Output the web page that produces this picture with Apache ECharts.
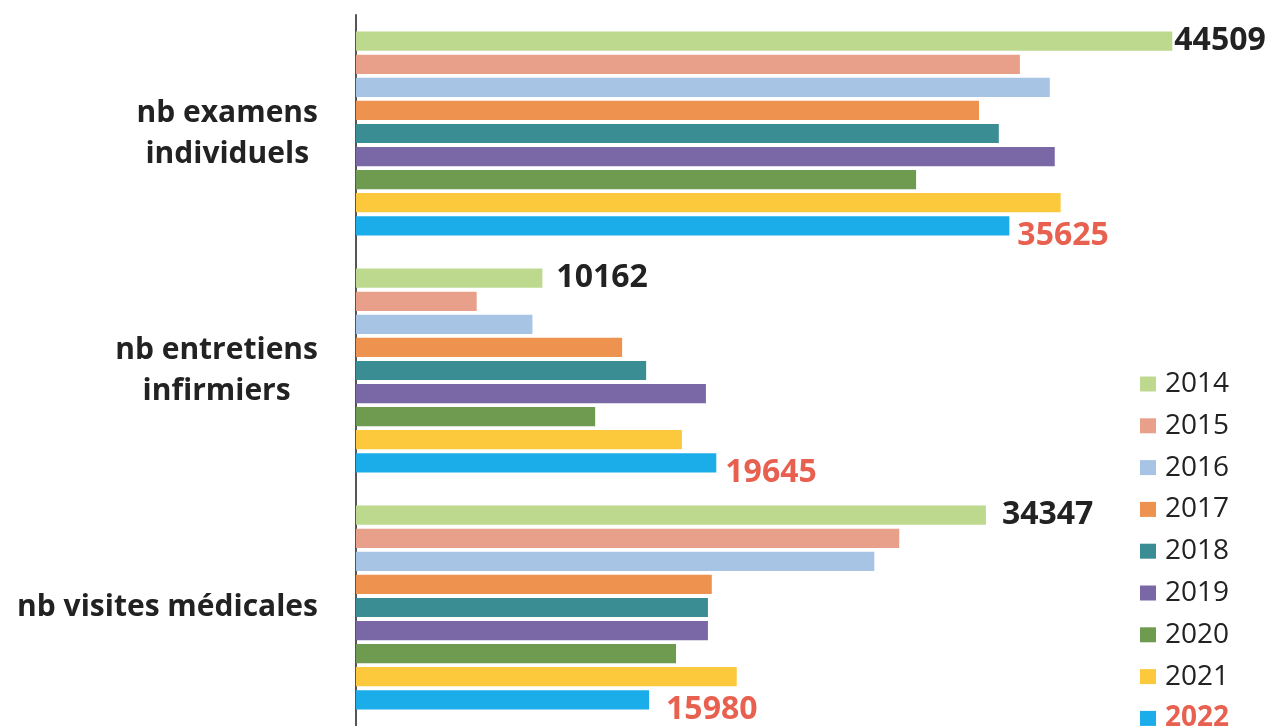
<!DOCTYPE html>
<html><head><meta charset="utf-8">
<script src="https://cdn.jsdelivr.net/npm/echarts@6/dist/echarts.min.js"></script>
<style>html,body{margin:0;padding:0;background:#fff}#c{width:1273px;height:726px}</style>
</head><body><div id="c"></div>
<script>
const categories = ['nb examens\nindividuels', 'nb entretiens\ninfirmiers', 'nb visites médicales'];
const years = ['2014','2015','2016','2017','2018','2019','2020','2021','2022'];
const v2014 = [44509, 10162, 34347];
const v2015 = [36200, 6580, 29620];
const v2016 = [37830, 9620, 28260];
const v2017 = [33970, 14510, 19400];
const v2018 = [35050, 15820, 19190];
const v2019 = [38100, 19080, 19190];
const v2020 = [30540, 13040, 17450];
const v2021 = [38420, 17770, 20760];
const v2022 = [35625, 19645, 15980];
const values = [v2014, v2015, v2016, v2017, v2018, v2019, v2020, v2021, v2022];
const colors = ['#bdd98e','#e8a08a','#a8c4e4','#ee934f','#3a8d92','#7a68a6','#6e9b50','#fcc83c','#1badea'];
const FONT = '"Open Sans"';
const firstDist = [2, 14, 16];
const lastDist = [8, 9, 17];

const series = years.map((y, i) => {
  const s = { name: y, type: 'bar', itemStyle: { color: colors[i] },
    barGap: '20%', barCategoryGap: '14%' };
  if (i === 0) {
    s.data = values[i].map((v, k) => ({ value: v, label: { distance: firstDist[k] } }));
    s.label = { show: true, position: 'right', color: '#222', fontFamily: FONT, fontWeight: 'bold', fontSize: 32 };
  } else if (i === years.length - 1) {
    s.data = values[i].map((v, k) => ({ value: v, label: { distance: lastDist[k] } }));
    s.label = { show: true, position: 'right', offset: [0, 10], color: '#e8604f', fontFamily: FONT, fontWeight: 'bold', fontSize: 32 };
  } else {
    s.data = values[i];
  }
  return s;
});

const chart = echarts.init(document.getElementById('c'));
chart.setOption({
  backgroundColor: '#fff',
  animation: false,
  grid: { left: 356, top: 15, width: 920, height: 711, containLabel: false },
  xAxis: { type: 'value', min: 0, max: 50000, show: false },
  yAxis: { type: 'category', data: categories, inverse: true,
    axisLine: { lineStyle: { color: '#555', width: 2 } },
    axisTick: { show: false },
    axisLabel: { margin: 38, formatter: v => v.split('\n').map(l => '{a|' + l + '}').join('\n'),
      rich: { a: { align: 'center', fontFamily: FONT, fontWeight: 'bold', fontSize: 30, color: '#222', lineHeight: 41 } } } },
  legend: { orient: 'vertical', left: 1140, top: 370, height: 420, padding: 0, itemWidth: 16, itemHeight: 15, itemGap: 13.8,
    icon: 'rect', data: years,
    formatter: n => n === '2022' ? '{r|' + n + '}' : '{n|' + n + '}',
    textStyle: { fontFamily: FONT, fontSize: 28,
      rich: { n: { fontFamily: FONT, fontSize: 28, color: '#222', padding: [0, 0, 0, 4] },
              r: { fontFamily: FONT, fontSize: 28, fontWeight: 'bold', color: '#e8604f', padding: [0, 0, 0, 4] } } } },
  series: series
});
</script></body></html>
